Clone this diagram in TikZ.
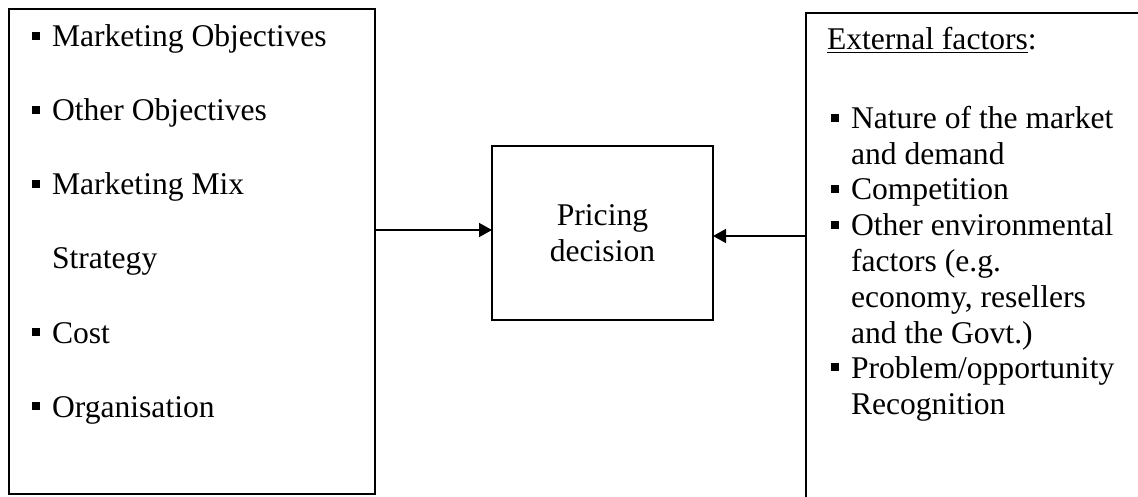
\documentclass[tikz,border=0pt]{standalone}
\usepackage{fontspec}
\setmainfont{Liberation Serif}
\usetikzlibrary{arrows.meta}

\tikzset{frame_box/.style={draw=black, line width=1.5pt, inner sep=0pt, outer sep=0pt}}
\tikzset{item_text/.style={anchor=base west, inner sep=0pt, outer sep=0pt, font=\fontsize{31.6}{35}\selectfont}}
\tikzset{link_arrow/.style={line width=1.5pt, -{Triangle[length=13pt,width=14pt]}}}
\newcommand{\sqbullet}{\raisebox{7pt}{\rule{8pt}{8pt}}\hspace{12pt}}

\begin{document}
\begin{tikzpicture}[x=1pt,y=-1pt]
    \useasboundingbox (0,0) rectangle (1138,497);
    % the three boxes
    \node[frame_box, minimum width=366pt, minimum height=485pt] (goals) at (192,251.5) {};
    \node[frame_box, minimum width=221pt, minimum height=174pt, align=center,
          font=\fontsize{31.6}{36}\selectfont] (pricing) at (602.5,233) {Pricing\\decision};
    \node[frame_box, minimum width=360pt, minimum height=520pt] (factors) at (986,273) {};
    % left list
    \foreach \y/\txt in {47/Marketing Objectives, 121/Other Objectives, 195/Marketing Mix, 343/Cost, 417/Organisation}
        \node[item_text] (goal\y) at (32,\y) {\sqbullet\txt};
    \node[item_text] (goal269) at (52,269) {Strategy};
    % right list
    \node[item_text] (ext_head) at (827,50) {\underline{External factors}:};
    \foreach \y/\txt in {129/{Nature of the market}, 200/Competition, 236/{Other environmental}, 378/{Problem/opportunity}}
        \node[item_text] (ext\y) at (831,\y) {\sqbullet\txt};
    \foreach \y/\txt in {165/{and demand}, 271/{factors (e.g.}, 307/{economy, resellers}, 343/{and the Govt.)}, 414/Recognition}
        \node[item_text] (ext\y) at (851,\y) {\txt};
    % arrows into the decision
    \coordinate (left_y) at (0,230);
    \coordinate (right_y) at (0,236);
    \draw[link_arrow] (goals.east |- left_y) -- (pricing.west |- left_y);
    \draw[link_arrow] (factors.west |- right_y) -- (pricing.east |- right_y);
\end{tikzpicture}
\end{document}
